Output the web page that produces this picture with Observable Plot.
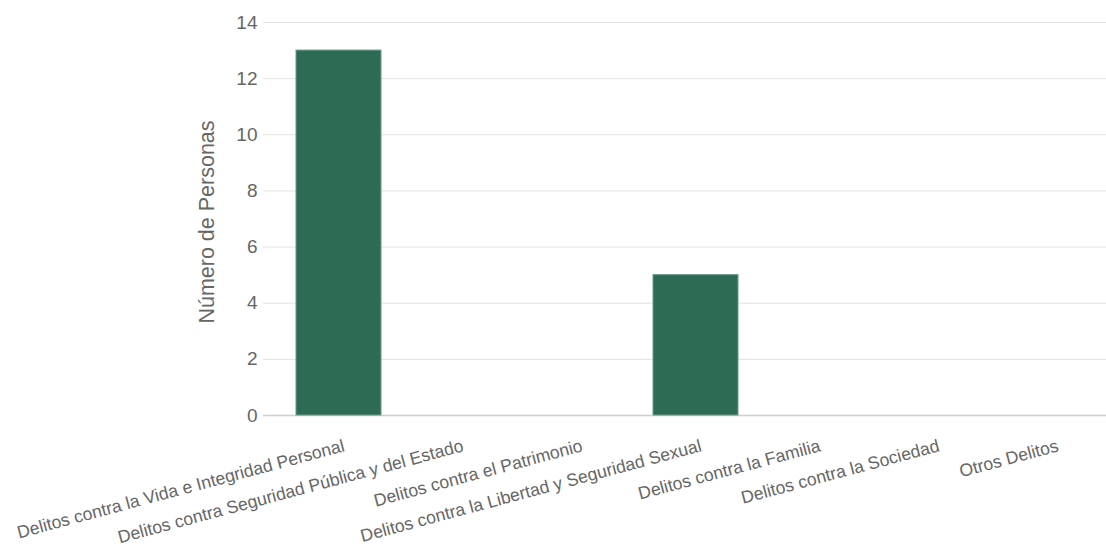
<!DOCTYPE html>
<html>
<head>
<meta charset="utf-8">
<script src="https://cdn.jsdelivr.net/npm/d3@7"></script>
<script src="https://cdn.jsdelivr.net/npm/@observablehq/plot@0.6"></script>
<style>
  html, body { margin: 0; padding: 0; background: #fff; }
  svg { display: block; }
</style>
</head>
<body>
<div id="chart"></div>
<script>
const categories = [
  "Delitos contra la Vida e Integridad Personal",
  "Delitos contra Seguridad Pública y del Estado",
  "Delitos contra el Patrimonio",
  "Delitos contra la Libertad y Seguridad Sexual",
  "Delitos contra la Familia",
  "Delitos contra la Sociedad",
  "Otros Delitos"
];
const values = [13, 0, 0, 5, 0, 0, 0];
const yTicks = [0, 2, 4, 6, 8, 10, 12, 14];
const yTitle = "Número de Personas";

const data = categories.map((c, i) => ({category: c, value: values[i]}));
const font = "'Liberation Sans', Arial, Helvetica, sans-serif";

const chart = Plot.plot({
  width: 1106,
  height: 555,
  marginLeft: 263,
  marginRight: 0,
  marginTop: 22,
  marginBottom: 140,
  style: {fontFamily: font, color: "#666", background: "#fff"},
  x: {domain: categories, range: [260.7, 1130.3], padding: 0.2877},
  y: {domain: [0, 14]},
  marks: [
    Plot.gridY(yTicks.filter(d => d !== 0), {stroke: "#e2e2e2", strokeOpacity: 1, strokeWidth: 1}),
    Plot.ruleY([0], {stroke: "#cfcfcf", strokeWidth: 1.5}),
    Plot.barY(data.filter(d => d.value > 0), {
      x: "category", y: "value",
      fill: "#2e6b55", stroke: "#6a9c88", strokeWidth: 1
    }),
    Plot.axisY({ticks: yTicks, tickSize: 0, tickPadding: 6, fontSize: 19, label: null, fill: "#666"}),
    Plot.axisX({tickSize: 0, tickPadding: 30, tickRotate: -15, fontSize: 17.6, dx: 5, label: null, fill: "#666"}),
    Plot.text([yTitle], {frameAnchor: "left", textAnchor: "middle", rotate: -90, dx: -56, dy: 3, text: d => d, fontSize: 21.5, fill: "#666"})
  ]
});
document.getElementById("chart").appendChild(chart);
</script>
</body>
</html>
